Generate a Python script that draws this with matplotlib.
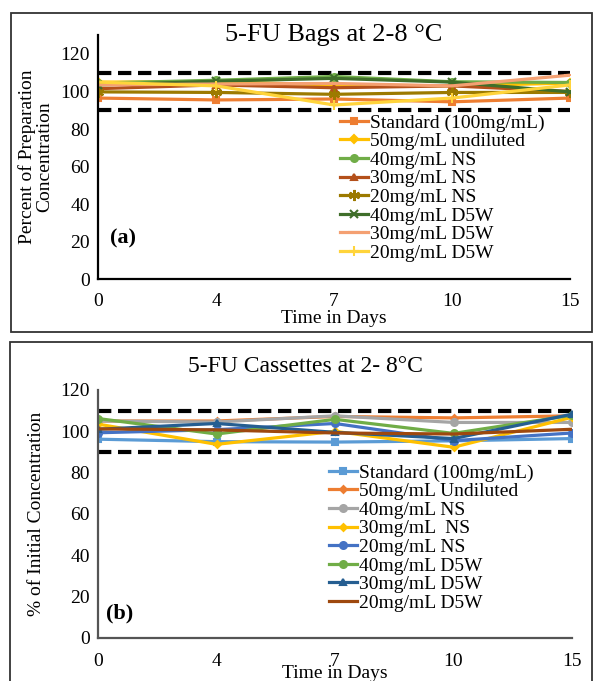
import matplotlib
matplotlib.use("Agg")
import matplotlib.pyplot as plt
from matplotlib.patches import Rectangle

plt.rcParams['font.family'] = ['Liberation Serif', 'DejaVu Serif']

days = ['0', '4', '7', '10', '15']

# Panel (a): 5-FU Bags at 2-8 °C
labels_a = ['Standard (100mg/mL)', '50mg/mL undiluted', '40mg/mL NS', '30mg/mL NS',
            '20mg/mL NS', '40mg/mL D5W', '30mg/mL D5W', '20mg/mL D5W']
std_a = [96.5, 95.5, 96.0, 94.5, 96.5]
und50_a = [105.0, 105.2, 103.5, 103.0, 104.5]
ns40_a = [104.5, 106.0, 108.0, 105.2, 104.8]
ns30_a = [101.5, 103.5, 102.0, 103.0, 100.0]
ns20_a = [99.8, 99.5, 98.5, 99.5, 99.5]
d5w40_a = [103.5, 105.5, 107.0, 105.0, 99.8]
d5w30_a = [103.5, 104.0, 104.3, 103.0, 108.7]
d5w20_a = [105.0, 103.0, 92.8, 96.5, 103.5]

# Panel (b): 5-FU Cassettes at 2-8 °C
labels_b = ['Standard (100mg/mL)', '50mg/mL Undiluted', '40mg/mL NS', '30mg/mL  NS',
            '20mg/mL NS', '40mg/mL D5W', '30mg/mL D5W', '20mg/mL D5W']
std_b = [96.2, 95.0, 94.8, 95.4, 96.5]
und50_b = [105.0, 105.0, 107.2, 106.5, 107.5]
ns40_b = [105.0, 104.5, 107.5, 104.3, 104.3]
ns30_b = [103.5, 93.7, 100.0, 92.3, 106.8]
ns20_b = [99.3, 100.8, 103.8, 95.5, 99.2]
d5w40_b = [106.2, 98.7, 105.8, 99.0, 107.8]
d5w30_b = [101.0, 103.8, 99.5, 96.5, 108.3]
d5w20_b = [101.2, 100.7, 99.2, 98.7, 101.0]

limits = [90, 110]

W, H = 593, 681
fig = plt.figure(figsize=(W / 100, H / 100), dpi=100)

def fx(px):
    return px / W

def fy(py):
    return 1 - py / H

# outer boxes
fig.patches.append(Rectangle((fx(11), fy(332)), fx(581), (332 - 13) / H, transform=fig.transFigure,
                             fill=False, edgecolor='#333333', linewidth=1.3))
fig.patches.append(Rectangle((fx(10), fy(690)), fx(582), (690 - 342) / H, transform=fig.transFigure,
                             fill=False, edgecolor='#333333', linewidth=1.3))

x = list(range(len(days)))

series_a = [std_a, und50_a, ns40_a, ns30_a, ns20_a, d5w40_a, d5w30_a, d5w20_a]
colors_a = ['#ED7D31', '#FFC000', '#70AD47', '#B4501A', '#9C7A00', '#3F6E2A', '#F4A072', '#FFD43B']
markers_a = ['s', 'D', 'o', '^', (6, 2, 0), 'x', '_', '+']
msize_a = [5, 4, 5, 5, 8, 6, 8, 7]

series_b = [std_b, und50_b, ns40_b, ns30_b, ns20_b, d5w40_b, d5w30_b, d5w20_b]
colors_b = ['#5B9BD5', '#ED7D31', '#A5A5A5', '#FFC000', '#4472C4', '#70AD47', '#255E91', '#9E480E']
markers_b = ['s', 'D', 'o', 'D', 'o', 'o', '^', 'None']
msize_b = [5, 3.5, 5, 3.5, 5, 5, 5, 0]


def setup(ax, ymax, ylabel, xlab_y, xt_y, title, title_xy, title_fs, tag, tag_xy, ylab_x,
          series, colors, markers, msizes, labels, leg_xy, spine_color):
    for s, c, m, ms, lab in zip(series, colors, markers, msizes, labels):
        ax.plot(x, s, color=c, marker=m, markersize=ms, linewidth=2.3, label=lab,
                markeredgecolor=c, markerfacecolor=c, markeredgewidth=1.5)
    for lv in limits:
        ax.plot([x[0], x[-1]], [lv, lv], color='black', linewidth=3.0,
                linestyle=(0, (3.2, 1.6)), zorder=1)
    ax.set_xlim(x[0], x[-1])
    ax.set_ylim(0, ymax)
    ax.set_yticks(range(0, 121, 20))
    ax.set_xticks([])
    ax.tick_params(axis='y', length=0, labelsize=14, pad=6)
    for sp in ['top', 'right']:
        ax.spines[sp].set_visible(False)
    for sp in ['left', 'bottom']:
        ax.spines[sp].set_color(spine_color)
        ax.spines[sp].set_linewidth(1.6)
    ax.patch.set_alpha(0)
    l, r = ax.get_position().x0, ax.get_position().x1
    for i, d in enumerate(days):
        fig.text(l + (r - l) * i / (len(days) - 1), fy(xt_y), d, ha='center', va='center', fontsize=14)
    fig.text((l + r) / 2, fy(xlab_y), 'Time in Days', ha='center', va='center', fontsize=14)
    fig.text(fx(title_xy[0]), fy(title_xy[1]), title, ha='center', va='center', fontsize=title_fs)
    fig.text(fx(tag_xy[0]), fy(tag_xy[1]), tag, ha='left', va='center', fontsize=16, fontweight='bold')
    b, t = ax.get_position().y0, ax.get_position().y1
    fig.text(fx(ylab_x), (b + t) / 2, ylabel, rotation=90, ha='center', va='center', fontsize=14,
             linespacing=1.0)
    ax.legend(loc='upper left', bbox_to_anchor=(fx(leg_xy[0]), fy(leg_xy[1])),
              bbox_transform=fig.transFigure, frameon=False, fontsize=14, handlelength=1.45,
              handletextpad=0.1, labelspacing=0.05, borderpad=0, borderaxespad=0)


ax1 = fig.add_axes([fx(98), fy(279), fx(570) - fx(98), (279 - 35.25) / H])
setup(ax1, 130, 'Percent of Preparation\nConcentration', 318, 302, '5-FU Bags at 2-8 \u00b0C', (334, 35), 19,
      '(a)', (110, 238), 36, series_a, colors_a, markers_a, msize_a, labels_a, (340, 114), 'black')

ax2 = fig.add_axes([fx(98), fy(638), fx(572) - fx(98), (638 - 390) / H])
setup(ax2, 120, '% of Initial Concentration', 673, 662, '5-FU Cassettes at 2- 8\u00b0C', (305, 367), 17,
      '(b)', (106, 613), 37, series_b, colors_b, markers_b, msize_b, labels_b, (329, 464), '#555555')

fig.savefig('out.png', dpi=100)
